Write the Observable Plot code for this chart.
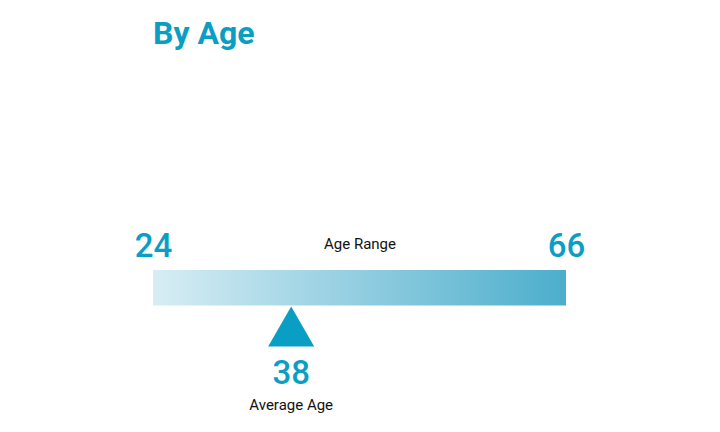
<!DOCTYPE html>
<html>
<head>
<meta charset="utf-8">
<script src="https://cdn.jsdelivr.net/npm/d3@7"></script>
<script src="https://cdn.jsdelivr.net/npm/@observablehq/plot@0.6"></script>
<style>
  html, body { margin: 0; padding: 0; background: #fff; }
  body { width: 720px; height: 432px; overflow: hidden; font-family: Roboto, sans-serif; }
  #title { height: 60px; box-sizing: border-box; padding: 17px 0 0 153px; font: 700 32px/32px Roboto, sans-serif; color: #0a9ec4; }
</style>
</head>
<body>
<div id="title">By Age</div>
<div id="chart"></div>
<script>
const title = "By Age";
const rangeEnds = [24, 66];
const averageAge = [38];
const rangeLabel = ["Age Range"];
const averageLabel = ["Average Age"];

const accent = "#0a9ec4";
const W = 720, H = 372;

document.getElementById("title").textContent = title;

const mid = [(rangeEnds[0] + rangeEnds[1]) / 2];

const plot = Plot.plot({
  width: W,
  height: H,
  marginLeft: 153,
  marginRight: 154,
  marginTop: 0,
  marginBottom: 0,
  style: {fontFamily: "Roboto, sans-serif", background: "white", overflow: "visible"},
  x: {domain: rangeEnds, axis: null},
  marks: [
    Plot.rect([rangeEnds], {x1: d => d[0], x2: d => d[1], fill: "url(#ageGrad)", insetTop: 210, insetBottom: 126.5}),
    Plot.text(rangeEnds, {x: d => d, text: d => String(d), frameAnchor: "top", lineAnchor: "bottom", dy: 196, fontSize: 33, fontWeight: 500, fill: accent}),
    Plot.text(rangeLabel, {x: () => mid[0], text: d => d, frameAnchor: "top", lineAnchor: "bottom", dy: 188, fontSize: 15, fill: "#111"}),
    Plot.dot(averageAge, {x: d => d, frameAnchor: "top", dy: 272.6, symbol: "triangle", r: 17.1, fill: accent, stroke: null}),
    Plot.text(averageAge, {x: d => d, text: d => String(d), frameAnchor: "top", lineAnchor: "bottom", dy: 323, fontSize: 33, fontWeight: 500, fill: accent}),
    Plot.text(averageLabel, {x: () => averageAge[0], text: d => d, frameAnchor: "top", lineAnchor: "bottom", dy: 349, fontSize: 15, fill: "#111"})
  ]
});

const svg = d3.select(plot);
const defs = svg.insert("defs", ":first-child");
const grad = defs.append("linearGradient").attr("id", "ageGrad").attr("x1", "0%").attr("x2", "100%").attr("y1", "0%").attr("y2", "0%");
grad.append("stop").attr("offset", "0%").attr("stop-color", "#d7edf4");
grad.append("stop").attr("offset", "100%").attr("stop-color", "#4caecc");

document.getElementById("chart").appendChild(plot);
</script>
</body>
</html>
